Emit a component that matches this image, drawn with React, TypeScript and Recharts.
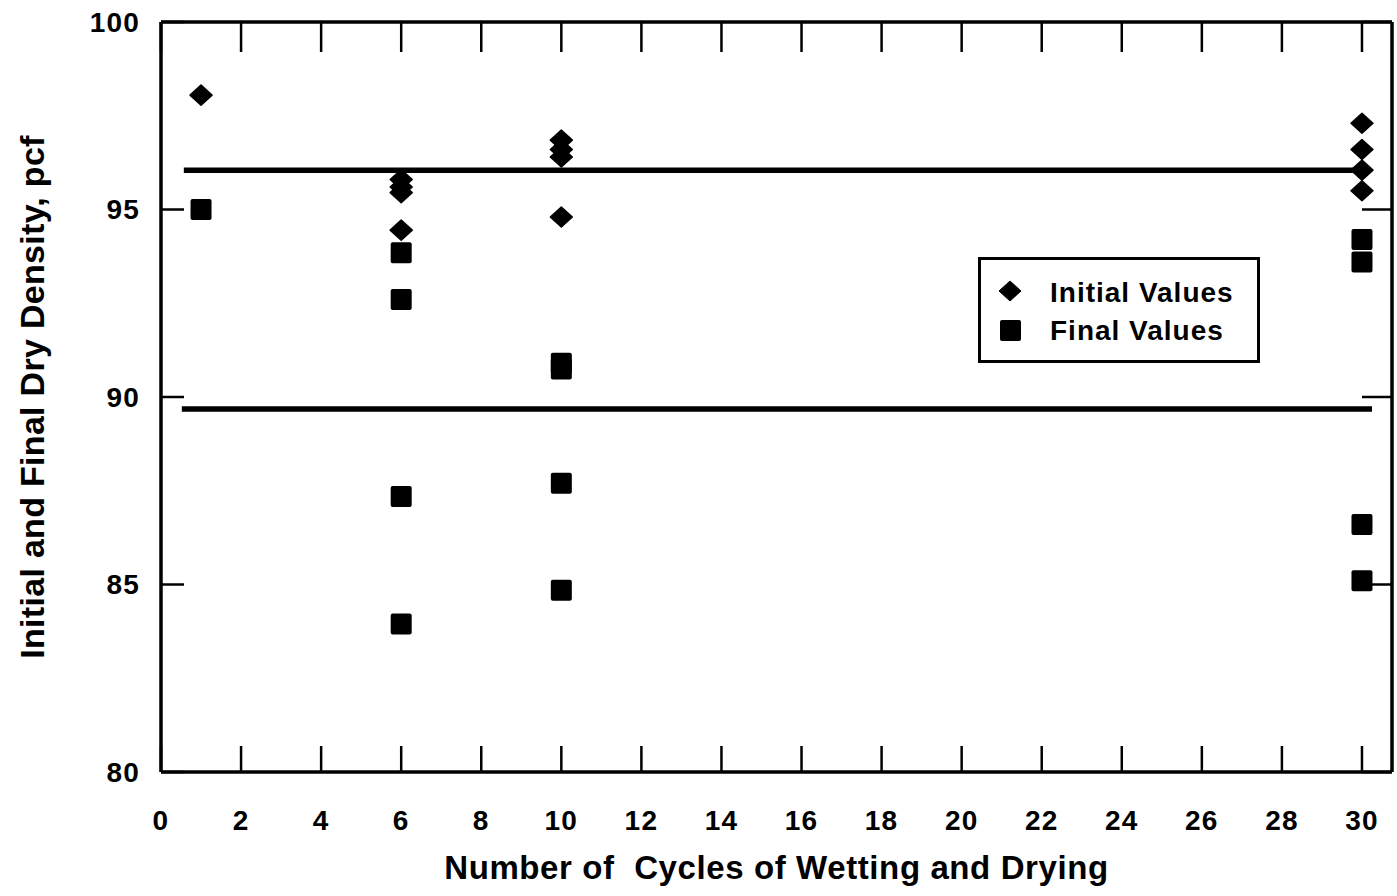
import React from "react"
import { ComposedChart, Scatter, XAxis, YAxis, ReferenceLine, Legend, Label } from "recharts"

// cycles of wetting and drying (x) and dry density in pcf (y)
const initialCycles = [1, 6, 6, 6, 6, 10, 10, 10, 10, 30, 30, 30, 30]
const initialDensity = [98.05, 95.8, 95.6, 95.45, 94.45, 96.85, 96.6, 96.4, 94.8, 97.3, 96.6, 96.05, 95.5]

const finalCycles = [1, 6, 6, 6, 6, 10, 10, 10, 10, 30, 30, 30, 30]
const finalDensity = [95.0, 93.85, 92.6, 87.35, 83.95, 90.9, 90.75, 87.7, 84.85, 94.2, 93.6, 86.6, 85.1]

// the two horizontal bands drawn across the plot
const bandDensity = [96.05, 89.68]
const bandStart = [0.57, 0.52]
const bandEnd = [29.85, 30.25]

const xTicks = [0, 2, 4, 6, 8, 10, 12, 14, 16, 18, 20, 22, 24, 26, 28, 30]
const yTicks = [80, 85, 90, 95, 100]

const initialData = initialCycles.map((x, i) => ({ x, y: initialDensity[i] }))
const finalData = finalCycles.map((x, i) => ({ x, y: finalDensity[i] }))

const FONT = "'Liberation Sans', Arial, Helvetica, sans-serif"

const Diamond = (props: any) => {
  const { cx, cy } = props
  if (cx == null || cy == null) return null
  return (
    <polygon
      points={`${cx},${cy - 10} ${cx + 11},${cy} ${cx},${cy + 10} ${cx - 11},${cy}`}
      fill="#000"
      stroke="#000"
      strokeWidth={1.5}
      strokeLinejoin="round"
    />
  )
}

const Square = (props: any) => {
  const { cx, cy } = props
  if (cx == null || cy == null) return null
  return <rect x={cx - 10.5} y={cy - 10.5} width={21} height={21} rx={2} fill="#000" />
}

const renderLegend = () => (
  <div
    style={{
      width: 282,
      height: 106,
      boxSizing: "border-box",
      border: "3px solid #000",
      background: "#fff",
    }}
  >
    <svg width={276} height={100} style={{ display: "block" }}>
      <polygon points="29,21 40,31 29,41 18,31" fill="#000" stroke="#000" strokeLinejoin="round" />
      <rect x={19} y={60} width={21} height={21} rx={2} fill="#000" />
      <text x={69} y={42} fontFamily={FONT} fontWeight="bold" fontSize={28} letterSpacing={1} fill="#000">
        Initial Values
      </text>
      <text x={69} y={80} fontFamily={FONT} fontWeight="bold" fontSize={28} letterSpacing={1} fill="#000">
        Final Values
      </text>
    </svg>
  </div>
)

const YTitle = (props: any) => {
  const { viewBox } = props
  const cy = viewBox.y + viewBox.height / 2
  const x = 44
  return (
    <text
      x={x}
      y={cy}
      transform={`rotate(-90, ${x}, ${cy})`}
      textAnchor="middle"
      fontFamily={FONT}
      fontWeight="bold"
      fontSize={34}
      letterSpacing={0.3}
      fill="#000"
    >
      Initial and Final Dry Density, pcf
    </text>
  )
}

const XTitle = (props: any) => {
  const { viewBox } = props
  const cx = viewBox.x + viewBox.width / 2
  return (
    <text
      x={cx}
      y={879}
      textAnchor="middle"
      fontFamily={FONT}
      fontWeight="bold"
      fontSize={33}
      letterSpacing={0.6}
      fill="#000"
      style={{ whiteSpace: "pre" }}
    >
      Number of  Cycles of Wetting and Drying
    </text>
  )
}

const tickStyle = { fontFamily: FONT, fontWeight: "bold", fontSize: 28, fill: "#000", letterSpacing: 1.2 }
const frame = { stroke: "#000", strokeWidth: 3.5 }
const tickLine = { stroke: "#000", strokeWidth: 2.5 }

export default function App() {
  return (
    <div style={{ position: "absolute", left: 0, top: 0, width: 1397, height: 896, background: "#fff" }}>
      <ComposedChart width={1397} height={896} margin={{ top: 21, right: 4, bottom: 64, left: 81 }}>
        <XAxis
          type="number"
          dataKey="x"
          domain={[0, 30.75]}
          allowDataOverflow
          ticks={xTicks}
          interval={0}
          axisLine={frame}
          tickLine={tickLine}
          tickSize={-26}
          tickMargin={64}
          tick={tickStyle}
          height={60}
        >
          <Label content={<XTitle />} />
        </XAxis>
        <XAxis
          xAxisId="top"
          orientation="top"
          type="number"
          dataKey="x"
          domain={[0, 30.75]}
          allowDataOverflow
          ticks={xTicks}
          interval={0}
          axisLine={frame}
          tickLine={tickLine}
          tickSize={-30}
          tickFormatter={() => ""}
          height={1}
        />
        <YAxis
          type="number"
          dataKey="y"
          domain={[80, 100]}
          allowDataOverflow
          ticks={yTicks}
          interval={0}
          axisLine={frame}
          tickLine={tickLine}
          tickSize={-23}
          tickMargin={44}
          tick={tickStyle}
          width={80}
        >
          <Label content={<YTitle />} />
        </YAxis>
        <YAxis
          yAxisId="right"
          orientation="right"
          type="number"
          domain={[80, 100]}
          allowDataOverflow
          ticks={yTicks}
          interval={0}
          axisLine={frame}
          tickLine={tickLine}
          tickSize={-30}
          tickFormatter={() => ""}
          width={1}
        />
        {bandDensity.map((y, i) => (
          <ReferenceLine
            key={i}
            segment={[
              { x: bandStart[i], y },
              { x: bandEnd[i], y },
            ]}
            stroke="#000"
            strokeWidth={5.5}
          />
        ))}
        <Scatter
          name="Initial Values"
          data={initialData}
          xAxisId="top"
          shape={Diamond}
          isAnimationActive={false}
        />
        <Scatter name="Final Values" data={finalData} shape={Square} isAnimationActive={false} />
        <Legend
          content={renderLegend}
          layout="vertical"
          align="center"
          verticalAlign="middle"
          wrapperStyle={{ left: 978, top: 257, width: 282, height: 106 }}
        />
      </ComposedChart>
    </div>
  )
}
